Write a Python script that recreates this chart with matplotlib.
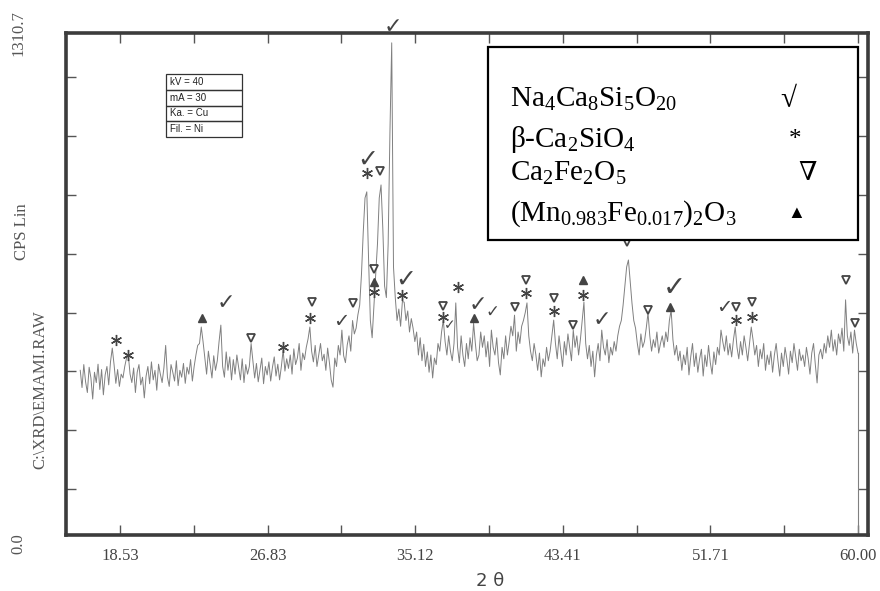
import numpy as np
import matplotlib
matplotlib.use("Agg")
import matplotlib.pyplot as plt
from matplotlib.patches import Rectangle

plt.rcParams['mathtext.fontset'] = 'custom'
plt.rcParams['mathtext.rm'] = 'Liberation Serif'
plt.rcParams['mathtext.it'] = 'Liberation Serif:italic'

# XRD scan, 0.1 deg steps from 16.3 to 60.0 (CPS)
two_theta = np.round(np.arange(16.3, 60.05, 0.1), 2)
cps = [
    430, 385, 445, 400, 372, 438, 410,
    355, 425, 398, 446, 380, 432, 366, 418, 440, 392,
    452, 488, 445, 396, 432, 388, 420, 410, 440, 462,
    470, 420, 398, 436, 372, 425, 445, 392, 412, 358,
    415, 440, 395, 452, 405, 430, 378, 446, 420, 398,
    436, 495, 412, 388, 445, 425, 402, 455, 390, 430,
    412, 448, 396, 438, 420, 458, 402, 440, 470, 495,
    500, 543, 505, 462, 420, 480, 445, 410, 468, 430,
    455, 505, 548, 440, 412, 478, 430, 465, 405, 458,
    420, 470, 438, 405, 460, 398, 445, 420, 440, 500,
    455, 410, 448, 400, 432, 462, 395, 440, 418, 452,
    402, 438, 465, 415, 446, 405, 440, 483, 428, 460,
    435, 470, 420, 486, 445, 462, 500, 430, 475, 458,
    490, 512, 543, 480, 452, 495, 440, 470, 500, 455,
    472, 430, 488, 450, 405, 386, 462, 440, 495, 470,
    535, 468, 450, 496, 520, 480, 560, 525, 540, 575,
    600, 680, 790, 880, 896, 720, 560, 515, 600, 680,
    760, 880, 914, 800, 650, 620, 760, 1050, 1285, 700,
    620, 560, 590, 545, 610, 608, 560, 585, 530, 565,
    540, 505, 530, 470, 515, 455, 498, 440, 478, 425,
    470, 410, 462, 445, 500, 480, 530, 561, 505, 470,
    520, 480, 455, 500, 606, 490, 450, 520, 470, 440,
    500, 460, 515, 480, 553, 500, 455, 470, 530, 490,
    520, 465, 505, 440, 535, 490, 470, 515, 450, 418,
    490, 460, 520, 470, 505, 545, 520, 574, 480, 530,
    500, 545, 560, 580, 606, 520, 480, 455, 500, 470,
    430, 475, 413, 460, 440, 490, 455, 480, 520, 561,
    500, 460, 520, 480, 440, 505, 470, 525, 490, 455,
    535, 490, 520, 470, 510, 560, 608, 500, 460, 495,
    440, 480, 413, 470, 500, 455, 535, 490, 470, 510,
    450, 490, 470, 505, 480, 520, 545, 560, 600, 650,
    700, 718, 660, 605, 560, 540, 500, 470, 525, 490,
    505, 540, 580, 520, 480, 510, 490, 530, 475, 500,
    520, 490, 530, 505, 560, 587, 510, 470, 495, 455,
    480, 430, 470, 445, 490, 418, 465, 500, 440, 475,
    425, 460, 485, 415, 470, 440, 495, 450, 420, 478,
    445, 490, 470, 535, 505, 480, 520, 470, 500, 465,
    510, 543, 490, 460, 505, 470, 520, 490, 455, 500,
    543, 510, 470, 495, 440, 485, 460, 500, 430, 470,
    445, 480, 425, 470, 500, 455, 415, 475, 440, 490,
    460, 420, 480, 450, 500, 465, 430, 485, 455, 470,
    440, 490, 460, 420, 475, 500, 445, 397, 470, 485,
    460, 500, 475, 520, 490, 535, 480, 510, 470, 525,
    500, 540, 480, 614, 520, 495, 530, 475, 535, 500,
    475,
]

# phase marks drawn over the pattern
check_x = [24.48, 30.97, 32.45, 33.85, 34.58, 37.05, 38.62, 39.46, 45.63, 49.68, 52.48]
check_y = [606, 557, 979, 1326, 666, 548, 600, 582, 561, 645, 593]
check_fs = [16, 14, 18, 16, 18, 10, 16, 12, 16, 20, 14]
star_x = [18.31, 18.98, 27.68, 29.19, 32.39, 32.78, 34.35, 36.66, 37.5, 41.37, 42.94, 44.57, 53.15, 54.05]
star_y = [509, 470, 491, 567, 945, 635, 627, 569, 648, 632, 585, 627, 561, 569]
tri_down_x = [25.88, 29.3, 31.6, 33.12, 32.78, 36.66, 40.7, 41.37, 42.94, 44.0, 47.04, 48.22, 53.15, 54.05, 59.33, 59.83]
tri_down_y = [514, 608, 606, 950, 694, 598, 595, 666, 619, 548, 765, 587, 595, 608, 666, 553]
tri_up_x = [23.13, 32.78, 38.45, 44.57, 49.45]
tri_up_y = [567, 661, 567, 666, 595]

xtick_labels = ['18.53', '26.83', '35.12', '43.41', '51.71', '60.00']
info_rows = ['kV = 40', 'mA = 30', 'Ka. = Cu', 'Fil. = Ni']
phases = ['Na$_4$Ca$_8$Si$_5$O$_{20}$', 'β-Ca$_2$SiO$_4$', 'Ca$_2$Fe$_2$O$_5$',
          '(Mn$_{0.983}$Fe$_{0.017}$)$_2$O$_3$']
phase_syms = ['√', '*', '∇', '▲']

fig = plt.figure(figsize=(8.8, 5.91), dpi=100)
ax = fig.add_axes([66 / 880, 56 / 591, 802 / 880, 502 / 591])

ax.plot(two_theta, cps, color='#808080', lw=0.7, zorder=2)
ax.plot([two_theta[-1], two_theta[-1]], [cps[-1], 0], color='#808080', lw=0.8, zorder=2)

mc = '#444444'
ax.plot(star_x, star_y, ls='none', marker=(6, 2, 0), ms=8, mew=1.0, color=mc, zorder=3)
ax.plot(tri_down_x, tri_down_y, ls='none', marker='v', ms=6, mfc='white', mec=mc, mew=1.3, zorder=3)
ax.plot(tri_up_x, tri_up_y, ls='none', marker='^', ms=6, color=mc, zorder=3)
for x, y, s in zip(check_x, check_y, check_fs):
    ax.text(x, y, '✓', ha='center', va='center', fontsize=s, color=mc,
            family='DejaVu Sans', zorder=3, clip_on=False)

ax.set_xlim(15.5, 60.56)
ax.set_ylim(0, 1310.7)

major = [float(t) for t in xtick_labels]
ax.set_xticks(major)
ax.set_xticklabels(xtick_labels, family='Liberation Serif', fontsize=12, color='#444444')
ax.set_xticks([(a + b) / 2 for a, b in zip(major[:-1], major[1:])], minor=True)
ax.set_yticks(np.linspace(120, 1195, 8))
ax.set_yticklabels([])
ax.tick_params(axis='both', which='both', direction='in', length=7, width=1,
               color='#555555', top=True, right=True)
ax.tick_params(axis='x', which='major', pad=9)

for sp in ax.spines.values():
    sp.set_linewidth(2.6)
    sp.set_color('#3c3c3c')

# left side texts
tc = '#555555'
fig.text(18 / 880, 1 - 33 / 591, '1310.7', rotation=90, ha='center', va='center',
         family='Liberation Serif', fontsize=12, color=tc)
fig.text(18 / 880, 1 - 544 / 591, '0.0', rotation=90, ha='center', va='center',
         family='Liberation Serif', fontsize=12, color=tc)
fig.text(22 / 880, 1 - 232 / 591, 'CPS Lin', rotation=90, ha='center', va='center',
         family='Liberation Serif', fontsize=12, color=tc)
fig.text(40 / 880, 1 - 390 / 591, 'C:\\XRD\\EMAMI.RAW', rotation=90, ha='center', va='center',
         family='Liberation Serif', fontsize=12, color=tc)
fig.text(490 / 880, 1 - 581 / 591, '2 θ', ha='center', va='center',
         family='DejaVu Sans', fontsize=13, color='#444444')

# instrument info table
x0, x1 = (166 - 66) / 802, (242 - 66) / 802
ytop, rh = (535 - 74) / 502, 15.75 / 502
for i, r in enumerate(info_rows):
    yb = ytop - (i + 1) * rh
    ax.add_patch(Rectangle((x0, yb), x1 - x0, rh, transform=ax.transAxes,
                           fill=False, ec='#333333', lw=0.9, zorder=4))
    ax.text(x0 + 0.005, yb + rh / 2, r, transform=ax.transAxes, ha='left', va='center',
            family='Liberation Sans', fontsize=7, color='#222222', zorder=4)

# phase key
ax.add_patch(Rectangle((0.526, 0.588), 0.462, 0.384, transform=ax.transAxes,
                       fc='white', ec='black', lw=1.6, zorder=5))
rows_y = [0.867, 0.787, 0.721, 0.641]
sym_x = [0.900, 0.909, 0.925, 0.911]
sym_fs = [21, 18, 19, 13]
for i, (p, s) in enumerate(zip(phases, phase_syms)):
    ax.text(0.554, rows_y[i], p, transform=ax.transAxes, ha='left', va='center',
            family='Liberation Serif', fontsize=21, color='black', zorder=6)
    ax.text(sym_x[i], rows_y[i], s, transform=ax.transAxes, ha='center', va='center',
            family=['Liberation Serif', 'DejaVu Serif', 'DejaVu Sans'], fontsize=sym_fs[i],
            color='black', zorder=6)

fig.savefig('out.png', dpi=100)
